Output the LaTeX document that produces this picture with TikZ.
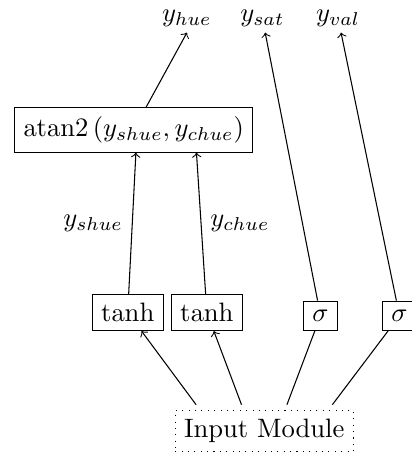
\documentclass[tikz,border=0pt]{standalone}
\usepackage{amsmath}
\usetikzlibrary{positioning}
\tikzset{every node/.style={shape=rectangle,draw = black}}
\tikzset{every edge/.style={draw = black, ->}}

\begin{document}
\begin{tikzpicture}[on grid]
  \useasboundingbox (0,0) rectangle (5.43,6.01);
  \node (In) [dotted] at (3.49,0.314) {Input Module};
  \node (T2) [above left = 1.569cm and 0.758cm of In] {$\tanh$};
  \node (T1) [left = 1.045cm of T2] {$\tanh$};
  \node (S1) [below right = 0.044cm and 1.502cm of T2] {$\sigma$};
  \node (S2) [right = 1.043cm of S1] {$\sigma$};
  \node (At) [above right = 2.41cm and 0.078cm of T1] {$\operatorname{atan2}\left(y_{shue}, y_{chue}\right)$ };
  \node (Yh) [draw = none, inner sep = 2pt, above right = 1.473cm and 0.704cm of At] {$y_{hue}$};
  \node (Ys) [draw = none, inner sep = 2pt, right = 0.997cm of Yh] {$y_{sat}$};
  \node (Yv) [draw = none, inner sep = 2pt, right = 1cm of Ys] {$y_{val}$};

  \coordinate (I1) at ([xshift = -0.9cm, yshift = 2pt]In.north);
  \coordinate (I2) at ([xshift = -0.3cm, yshift = 2pt]In.north);
  \coordinate (I3) at ([xshift = 0.3cm, yshift = 2pt]In.north);
  \coordinate (I4) at ([xshift = 0.9cm, yshift = 2pt]In.north);
  \coordinate (C1) at ([xshift = 0.03cm]At.south);
  \coordinate (C2) at ([xshift = 0.83cm]At.south);

  \path (I1) edge (T1);
  \path (I2) edge (T2);
  \path (I3) edge[-] (S1);
  \path (I4) edge[-] (S2);

  \path (T1) edge node[midway, left, draw = none] {$y_{shue}$} (C1);
  \path (T2) edge node[midway, right, draw = none] {$y_{chue}$} (C2);

  \path (At) edge (Yh.south);
  \path (S1) edge (Ys);
  \path (S2) edge (Yv);
\end{tikzpicture}
\end{document}
